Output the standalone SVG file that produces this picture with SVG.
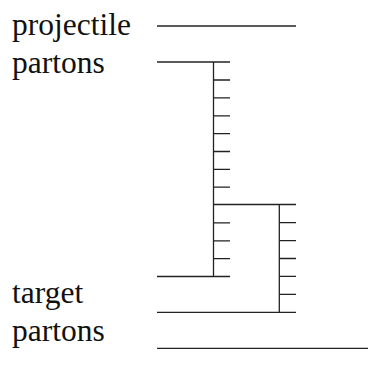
<svg xmlns="http://www.w3.org/2000/svg" width="368" height="382" viewBox="0 0 368 382">
  <style>
    .lbl { font-family: "Liberation Serif", "Times New Roman", serif; font-size: 31.5px; fill: #111; }
    .ln { stroke: #222; stroke-width: 1.3; fill: none; }
  </style>
  <rect width="368" height="382" fill="#fff"/>
  <g id="label-projectile"><text class="lbl" x="12" y="35">projectile</text></g>
  <g id="label-partons-top"><text class="lbl" x="12" y="73">partons</text></g>
  <g id="label-target"><text class="lbl" x="12" y="303">target</text></g>
  <g id="label-partons-bottom"><text class="lbl" x="12" y="341">partons</text></g>
  <g id="connectors" class="ln">
    <!-- incoming/outgoing parton lines -->
    <path d="M157 26H296"/>
    <path d="M157 62H230"/>
    <path d="M157 276.5H230"/>
    <path d="M157 312.3H296"/>
    <path d="M157 348.3H368"/>
    <!-- first ladder -->
    <path d="M213.5 62V276.5"/>
    <path d="M213.5 80H230M213.5 97.9H230M213.5 115.8H230M213.5 133.6H230M213.5 151.5H230M213.5 169.4H230M213.5 187.2H230M213.5 222.9H230M213.5 240.8H230M213.5 258.6H230"/>
    <!-- branch to second ladder -->
    <path d="M213.5 204.5H296"/>
    <path d="M279.3 204.5V312.3"/>
    <path d="M279.3 222.7H296M279.3 240.6H296M279.3 258.5H296M279.3 276.4H296M279.3 294.3H296"/>
  </g>
</svg>
